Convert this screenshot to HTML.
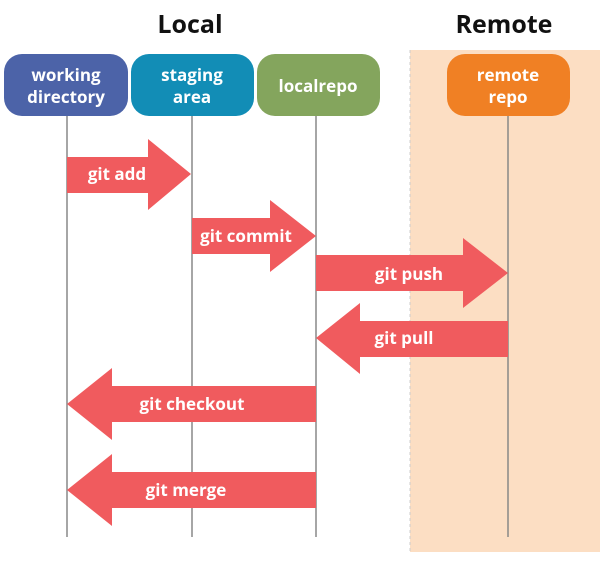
<!DOCTYPE html>
<html><head><style>body{margin:0;background:#fff}</style></head><body>
<svg width="602" height="564" xmlns="http://www.w3.org/2000/svg" font-family="'Open Sans','Liberation Sans',sans-serif" font-weight="bold">
<rect x="410" y="50" width="190" height="502" fill="#fcdec3"/>
<line x1="410" y1="50" x2="410" y2="552" stroke="#ccc" stroke-dasharray="3,3"/>
<text x="190" y="33" font-size="25" text-anchor="middle" fill="#111">Local</text>
<text x="504" y="33" font-size="25" text-anchor="middle" fill="#111">Remote</text>
<g stroke="#888" stroke-width="1.5">
<line x1="67" y1="116" x2="67" y2="537"/><line x1="192" y1="116" x2="192" y2="537"/>
<line x1="316" y1="116" x2="316" y2="537"/><line x1="508" y1="116" x2="508" y2="537"/></g>
<rect x="4" y="54" width="124" height="62" rx="18" fill="#4c63a8"/>
<rect x="131" y="54" width="123" height="62" rx="18" fill="#128db6"/>
<rect x="257" y="54" width="123" height="62" rx="18" fill="#84a55d"/>
<rect x="447" y="54" width="123" height="62" rx="18" fill="#f08024"/>
<g fill="#fff" font-size="17" text-anchor="middle">
<text x="66" y="81">working</text><text x="66" y="103">directory</text>
<text x="192" y="81">staging</text><text x="192" y="103">area</text>
<text x="318" y="92">localrepo</text>
<text x="508" y="81">remote</text><text x="508" y="103">repo</text></g>
<g fill="#f05b5e">
<polygon points="67,157 148,157 148,139 191,174 148,210 148,193 67,193"/>
<polygon points="192,218 270,218 270,200 316,236 270,272 270,254 192,254"/>
<polygon points="316,255 463,255 463,238 508,273 463,308 463,291 316,291"/>
<polygon points="316,338 360,303 360,321 508,321 508,357 360,357 360,374"/>
<polygon points="67,404 112,368 112,386 316,386 316,422 112,422 112,440"/>
<polygon points="67,490 112,454 112,472 316,472 316,508 112,508 112,526"/>
</g>
<g fill="#fff" font-size="17" text-anchor="middle">
<text x="117" y="180">git add</text>
<text x="246" y="242">git commit</text>
<text x="409" y="280">git push</text>
<text x="404" y="344">git pull</text>
<text x="192" y="410">git checkout</text>
<text x="186" y="496">git merge</text>
</g>
</svg>
</body></html>
